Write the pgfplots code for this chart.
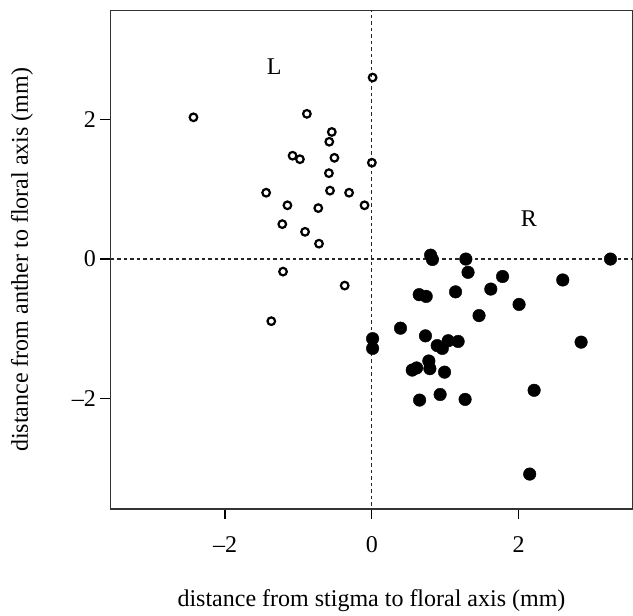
\documentclass[border=0pt]{standalone}
\usepackage{fontspec}
\setmainfont{Liberation Serif}
\usepackage{pgfplots}
\pgfplotsset{compat=1.18}

% open circles: left-handed flowers
\pgfplotstableread{
x y
-2.43 2.03
-0.885 2.08
0.01 2.60
-0.546 1.82
-0.58 1.68
-1.08 1.48
-0.98 1.43
-0.51 1.45
0.0 1.38
-0.585 1.23
-1.44 0.95
-0.57 0.98
-0.31 0.95
-1.15 0.77
-0.73 0.73
-0.10 0.77
-1.22 0.50
-0.91 0.39
-0.72 0.22
-1.21 -0.18
-0.37 -0.38
-1.37 -0.89
}\lefttab

% filled circles: right-handed flowers
\pgfplotstableread{
x y
0.80 0.056
0.825 -0.006
1.28 0.0
3.25 0.0
1.31 -0.19
1.78 -0.25
2.60 -0.30
0.645 -0.51
0.74 -0.535
1.14 -0.47
1.62 -0.43
2.005 -0.65
1.46 -0.81
0.39 -0.99
0.01 -1.14
0.01 -1.28
0.73 -1.10
1.04 -1.17
1.175 -1.18
0.89 -1.24
0.96 -1.28
2.85 -1.19
0.776 -1.46
0.55 -1.59
0.61 -1.56
0.79 -1.57
0.99 -1.62
0.65 -2.02
0.93 -1.94
1.27 -2.01
2.21 -1.88
2.15 -3.08
}\righttab

\begin{document}
\begin{tikzpicture}
\useasboundingbox (-110.5pt,-107pt) rectangle (522.5pt,509pt);
\begin{axis}[
    scale only axis,
    width=522pt, height=498.5pt,
    xmin=-3.56, xmax=3.55,
    ymin=-3.58, ymax=3.56,
    axis line style={line width=1.1pt, black!80},
    xtick={-2,0,2}, xticklabels={–2,0,2},
    ytick={-2,0,2}, yticklabels={–2,0,2},
    xtick pos=bottom, ytick pos=left,
    tick align=outside,
    major tick length=10pt,
    tick style={line width=1.1pt, black},
    ticklabel style={font=\fontsize{24}{28}\selectfont},
    xticklabel style={yshift=-14pt},
    yticklabel style={xshift=-1pt},
    xlabel={distance from stigma to floral axis (mm)},
    ylabel={distance from anther to floral axis (mm)},
    every axis x label/.style={at={(axis description cs:0.5,-0.1846)}, anchor=center,
        font=\fontsize{24}{28}\selectfont},
    every axis y label/.style={at={(axis description cs:-0.1695,0.5)}, rotate=90, anchor=center,
        font=\fontsize{24}{28}\selectfont},
    clip=true,
]
\addplot[black!85, line width=1.1pt, dash pattern=on 3.5pt off 3pt, forget plot]
    coordinates {(0,-4) (0,4)};
\addplot[black!85, line width=1.1pt, dash pattern=on 3.5pt off 3pt, forget plot]
    coordinates {(-4,0) (4,0)};
\addplot[only marks, mark=o, mark size=3.8pt, line width=2.2pt, black]
    table[x=x, y=y] {\lefttab};
\addplot[only marks, mark=*, mark size=6.3pt, black]
    table[x=x, y=y] {\righttab};
\node[font=\fontsize{24}{28}\selectfont] at (axis cs:-1.33,2.75) {L};
\node[font=\fontsize{24}{28}\selectfont] at (axis cs:2.14,0.575) {R};
\end{axis}
\end{tikzpicture}
\end{document}
